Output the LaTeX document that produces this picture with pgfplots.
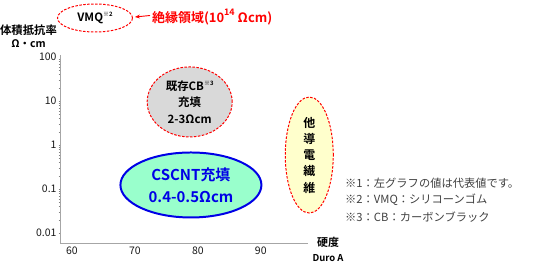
\documentclass[border=0pt]{standalone}
\usepackage{pgfplots}
\pgfplotsset{compat=1.18}
\usepackage{fontspec}
\setmainfont{Carlito}
\newfontfamily\jp{Noto Sans CJK JP}[BoldFont={Noto Sans CJK JP Bold}]
\usetikzlibrary{shapes.geometric,arrows.meta}
\definecolor{cbgray}{RGB}{217,217,217}
\definecolor{mint}{RGB}{153,255,204}
\definecolor{pale}{RGB}{255,255,204}
\definecolor{notegray}{RGB}{64,64,64}
\definecolor{dblue}{RGB}{0,0,230}
\begin{document}
\begin{tikzpicture}[x=1bp,y=1bp]
\path[use as bounding box] (0,0) rectangle (540,266);
\begin{axis}[
  at={(60bp,23bp)}, anchor=south west, scale only axis,
  width=248bp, height=188bp,
  xmin=58.1, xmax=97.5, ymode=log, ymin=0.0059, ymax=111,
  axis x line=bottom, axis y line=left,
  axis line style={-, gray!70, line width=0.8pt},
  xtick={60,70,80,90}, xticklabels={60,70,80,90},
  ytick={0.01,0.1,1,10,100}, yticklabels={0.01,0.1,1,10,100},
  major tick length=0pt,
  /pgf/number format/assume math mode=true,
  tick label style={font=\jp\fontsize{10.5}{11}\selectfont, text=black!90},
  clip=false,
]
\addplot[draw=none] coordinates {(60,1) (90,1)};
% existing CB filled
\node[ellipse, draw=red, dash pattern=on 2.5pt off 1.5pt, line width=1pt,
  fill=cbgray, minimum width=85bp, minimum height=70bp, inner sep=0pt,
  align=center, font=\jp\bfseries\fontsize{11.5}{16.5}\selectfont]
  at (axis cs:78.7,9.5)
  {既存CB\raisebox{0.45em}{\fontsize{6}{6}\selectfont ※3}\\充填\\2-3Ωcm};
% CSCNT
\node[ellipse, draw=dblue, line width=2pt, fill=mint,
  minimum width=141bp, minimum height=65bp, inner sep=0pt,
  align=center, text=dblue, font=\jp\bfseries\fontsize{15}{22}\selectfont]
  at (axis cs:78.9,0.123)
  {CSCNT充填\\0.4-0.5Ωcm};
% other conductive fibre
\node[ellipse, draw=red, dash pattern=on 2.5pt off 1.5pt, line width=1pt,
  fill=pale, minimum width=48bp, minimum height=116bp, inner sep=0pt,
  align=center, font=\jp\bfseries\fontsize{12}{16.3}\selectfont]
  at (axis cs:97.7,0.59)
  {他\\導\\電\\繊\\維};
\end{axis}
% VMQ ellipse
\node[ellipse, draw=red, dash pattern=on 2.5pt off 1.5pt, line width=1pt,
  fill=white, minimum width=75bp, minimum height=28bp, inner sep=0pt,
  font=\jp\bfseries\fontsize{11.5}{12}\selectfont]
  at (95,248) {VMQ\raisebox{0.45em}{\fontsize{6}{6}\selectfont ※2}};
\draw[red, line width=0.9pt, -{Stealth[length=5pt,width=4pt]}] (150,250.5) -- (135,249);
\node[anchor=west, inner sep=0pt, text=red, font=\jp\bfseries\fontsize{13}{13}\selectfont]
  at (152,249) {絶縁領域(10\raisebox{0.5em}{\fontsize{9}{9}\selectfont 14} Ωcm)};
% axis titles
\node[inner sep=0pt, font=\jp\bfseries\fontsize{11.4}{12}\selectfont] at (28.5,236) {体積抵抗率};
\node[inner sep=0pt, font=\jp\bfseries\fontsize{10.5}{11}\selectfont] at (28.5,222) {Ω・cm};
\node[inner sep=0pt, font=\jp\bfseries\fontsize{11}{12}\selectfont] at (328,23.5) {硬度};
\node[inner sep=0pt, font=\jp\bfseries\fontsize{9.5}{10}\selectfont] at (328,8) {Duro A};
% notes
\node[anchor=west, inner sep=0pt, text=notegray, font=\jp\fontsize{11.3}{12}\selectfont] at (345,83) {※1：左グラフの値は代表値です。};
\node[anchor=west, inner sep=0pt, text=notegray, font=\jp\fontsize{11.3}{12}\selectfont] at (345,66) {※2：VMQ：シリコーンゴム};
\node[anchor=west, inner sep=0pt, text=notegray, font=\jp\fontsize{11.3}{12}\selectfont] at (345,49) {※3：CB：カーボンブラック};
\end{tikzpicture}
\end{document}
